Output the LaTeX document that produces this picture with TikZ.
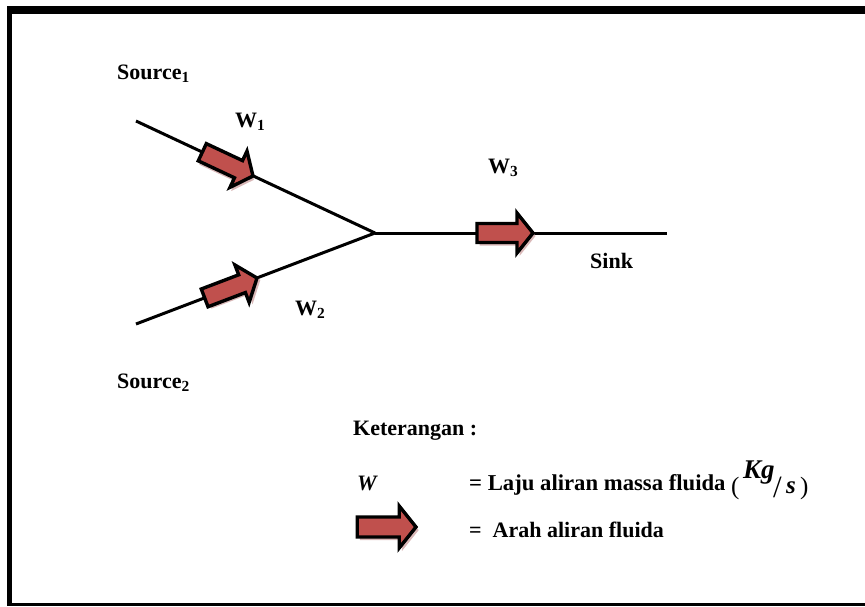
\documentclass[tikz,border=0pt]{standalone}
\usepackage{fontspec}
\setmainfont{Liberation Serif}
\definecolor{arrowred}{HTML}{C0504D}
\definecolor{shadowpink}{HTML}{D9B8B8}
\tikzset{
  pipe/.style={line width=3pt},
  lbl/.style={anchor=base west, inner sep=0pt, font=\fontsize{22}{26}\selectfont\bfseries},
  unitpart/.style={anchor=base west, inner sep=0pt, font=\fontsize{27}{30}\selectfont\bfseries\itshape},
  paren/.style={anchor=base west, inner sep=0pt, font=\fontsize{25}{28}\selectfont},
  arrowbody/.style={fill=arrowred, draw=black, line width=3.4pt, line join=miter},
  arrowshadow/.style={fill=shadowpink},
  flowarr/.pic={
    \fill[arrowshadow, shift={(2.5,3)}] (-56,-9.5) -- (-16,-9.5) -- (-16,-20) -- (0,0) -- (-16,20) -- (-16,9.5) -- (-56,9.5) -- cycle;
    \draw[arrowbody] (-56,-9.5) -- (-16,-9.5) -- (-16,-20) -- (0,0) -- (-16,20) -- (-16,9.5) -- (-56,9.5) -- cycle;
  }
}
\begin{document}
\begin{tikzpicture}[x=1pt,y=-1pt]
\useasboundingbox (0,0) rectangle (865,606);
% frame
\fill[black] (6.7,6) rectangle (865,14);
\fill[black] (6.7,6) rectangle (11.7,606);
\fill[black] (6.7,603) rectangle (865,606);
% junction coordinates
\coordinate (s1) at (136,121);
\coordinate (s2) at (136,324);
\coordinate (j) at (375,233);
\coordinate (k) at (667,233);
\draw[pipe] (s1) -- (j);
\draw[pipe] (s2) -- (j);
\draw[pipe] (j) -- (k);
% arrows
\pic[rotate=-25.1] at (253,176) {flowarr};
\pic[rotate=20.8] at (257,278) {flowarr};
\pic at (533,233) {flowarr};
\pic[scale=1.05] at (416,527) {flowarr};
% labels
\node[lbl] (src1) at (117,79) {Source\textsubscript{1}};
\node[lbl] (w1) at (235,127) {W\textsubscript{1}};
\node[lbl] (w2) at (295,315) {W\textsubscript{2}};
\node[lbl] (src2) at (117,388) {Source\textsubscript{2}};
\node[lbl] (w3) at (488,173) {W\textsubscript{3}};
\node[lbl] (sink) at (590,268) {Sink};
\node[lbl] (ket) at (353,435) {Keterangan :};
\node[lbl] (wl) at (357,490) {\itshape W};
\node[lbl, font=\fontsize{22.7}{26}\selectfont\bfseries] (laju) at (469,490) {= Laju aliran massa fluida};
\node[paren] (po) at (731,494) {(};
\node[unitpart] (kg) at (743,478) {Kg};
\node[paren, font=\fontsize{31}{34}\selectfont] (sl) at (773,497) {/};
\node[unitpart, font=\fontsize{25}{28}\selectfont\bfseries\itshape] (su) at (786,493) {s};
\node[paren] (pc) at (800,494) {)};
\node[lbl] (arah) at (469,537) {=\ \ Arah aliran fluida};
\end{tikzpicture}
\end{document}
